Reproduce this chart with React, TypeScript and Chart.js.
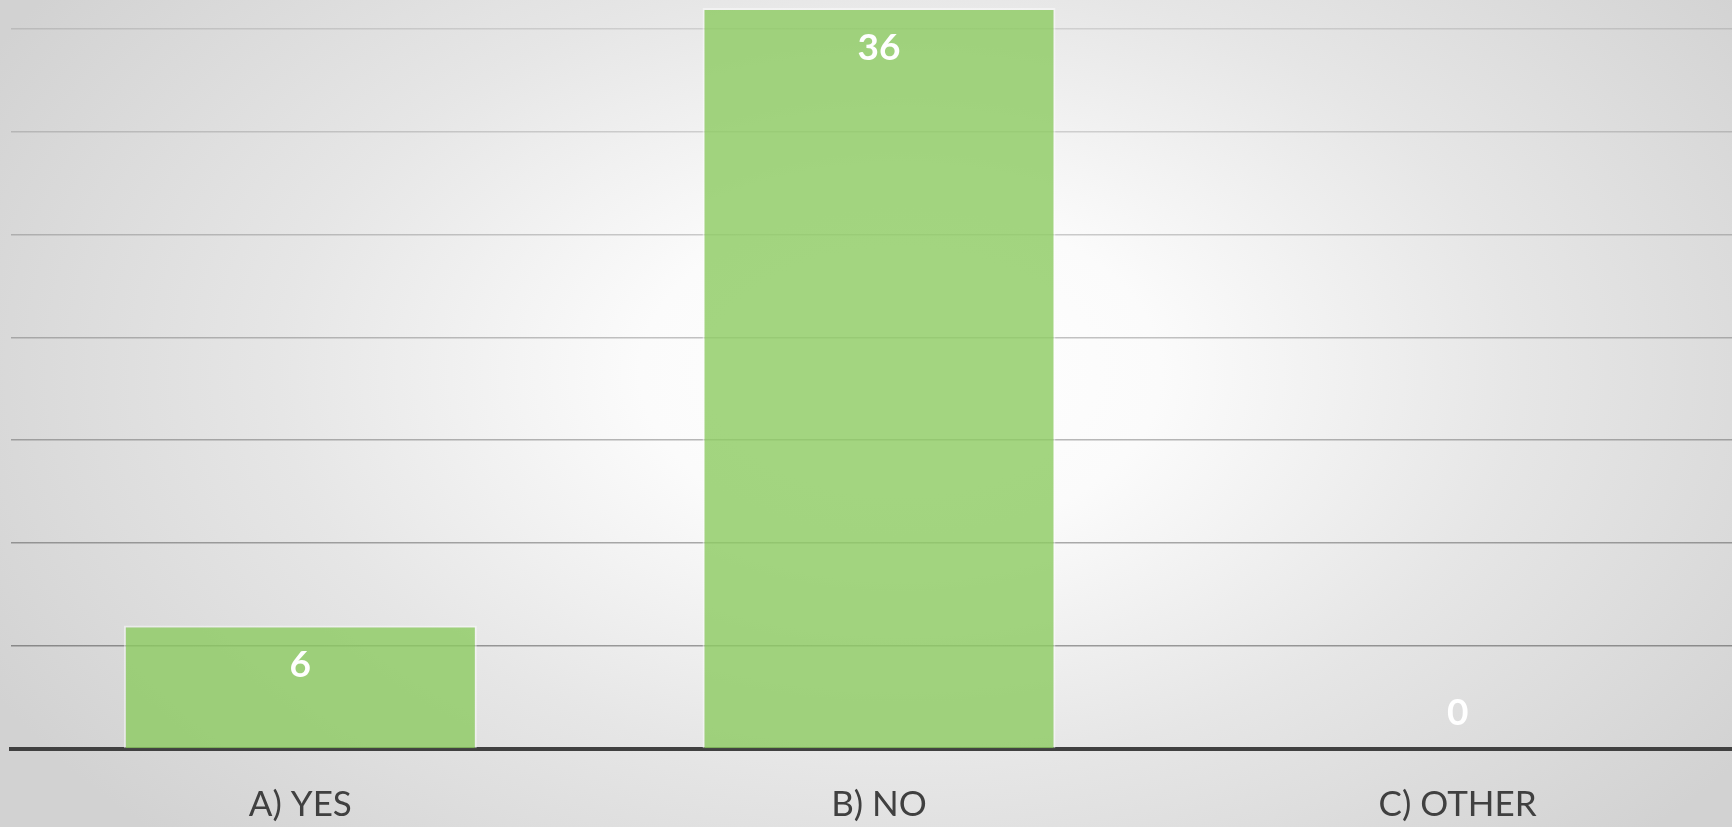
import React, { useEffect, useRef } from "react";
import { Chart, registerables } from "chart.js";

Chart.register(...registerables);

const categories: string[] = ["A) YES", "B) NO", "C) OTHER"];
const responses: number[] = [6, 36, 0];
const yMax = 36;
const yStep = 5;

const labelPlugin = {
  id: "valueLabels",
  afterDatasetsDraw(chart: any) {
    const ctx = chart.ctx;
    const meta = chart.getDatasetMeta(0);
    ctx.save();
    ctx.font = "bold 37px Lato";
    ctx.fillStyle = "#ffffff";
    ctx.textAlign = "center";
    ctx.textBaseline = "middle";
    meta.data.forEach((el: any, i: number) => {
      const v = responses[i];
      const y = v > 0 ? el.y + 40 : el.base - 36;
      ctx.fillText(String(v), el.x, y);
    });
    ctx.restore();
  },
};

export default function App() {
  const ref = useRef<HTMLCanvasElement | null>(null);
  useEffect(() => {
    if (!ref.current) return;
    const chart = new Chart(ref.current, {
      type: "bar",
      data: {
        labels: categories,
        datasets: [
          {
            data: responses,
            backgroundColor: "rgba(140,202,96,0.80)",
            borderColor: "rgba(255,255,255,0.45)",
            borderWidth: 2,
            borderSkipped: "bottom",
            categoryPercentage: 1,
            barPercentage: 0.61,
          },
        ],
      },
      plugins: [labelPlugin],
      options: {
        responsive: false,
        animation: false,
        devicePixelRatio: 1,
        layout: { padding: { left: 11, right: 0, top: 8, bottom: 0 } },
        plugins: { legend: { display: false }, tooltip: { enabled: false } },
        scales: {
          x: {
            z: 1,
            grid: { display: false, drawTicks: false },
            border: { display: true, color: "#404040", width: 4 },
            ticks: {
              color: "#404040",
              font: { family: "Lato", size: 35 },
              padding: 35,
            },
          },
          y: {
            min: 0,
            max: yMax,
            display: true,
            border: { display: false },
            ticks: { display: false, stepSize: yStep },
            grid: {
              drawTicks: false,
              lineWidth: 1.5,
              color: (c: any) => {
                const v = c.tick ? c.tick.value : 0;
                if (v % yStep !== 0) return "rgba(0,0,0,0)";
                const a = 0.1 + ((yMax - v) / yMax) * 0.3;
                return `rgba(0,0,0,${a.toFixed(3)})`;
              },
            },
          },
        },
      },
    });
    return () => chart.destroy();
  }, []);

  return (
    <div
      style={{
        position: "fixed",
        left: 0,
        top: 0,
        width: 1732,
        height: 827,
        overflow: "hidden",
        background:
          "radial-gradient(ellipse 60% 80% at 52% 45%, #ffffff 0%, #fbfbfb 25%, #e6e6e6 60%, #d2d2d2 100%)",
      }}
    >
      <canvas ref={ref} width={1747} height={861} style={{ display: "block" }} />
    </div>
  );
}
